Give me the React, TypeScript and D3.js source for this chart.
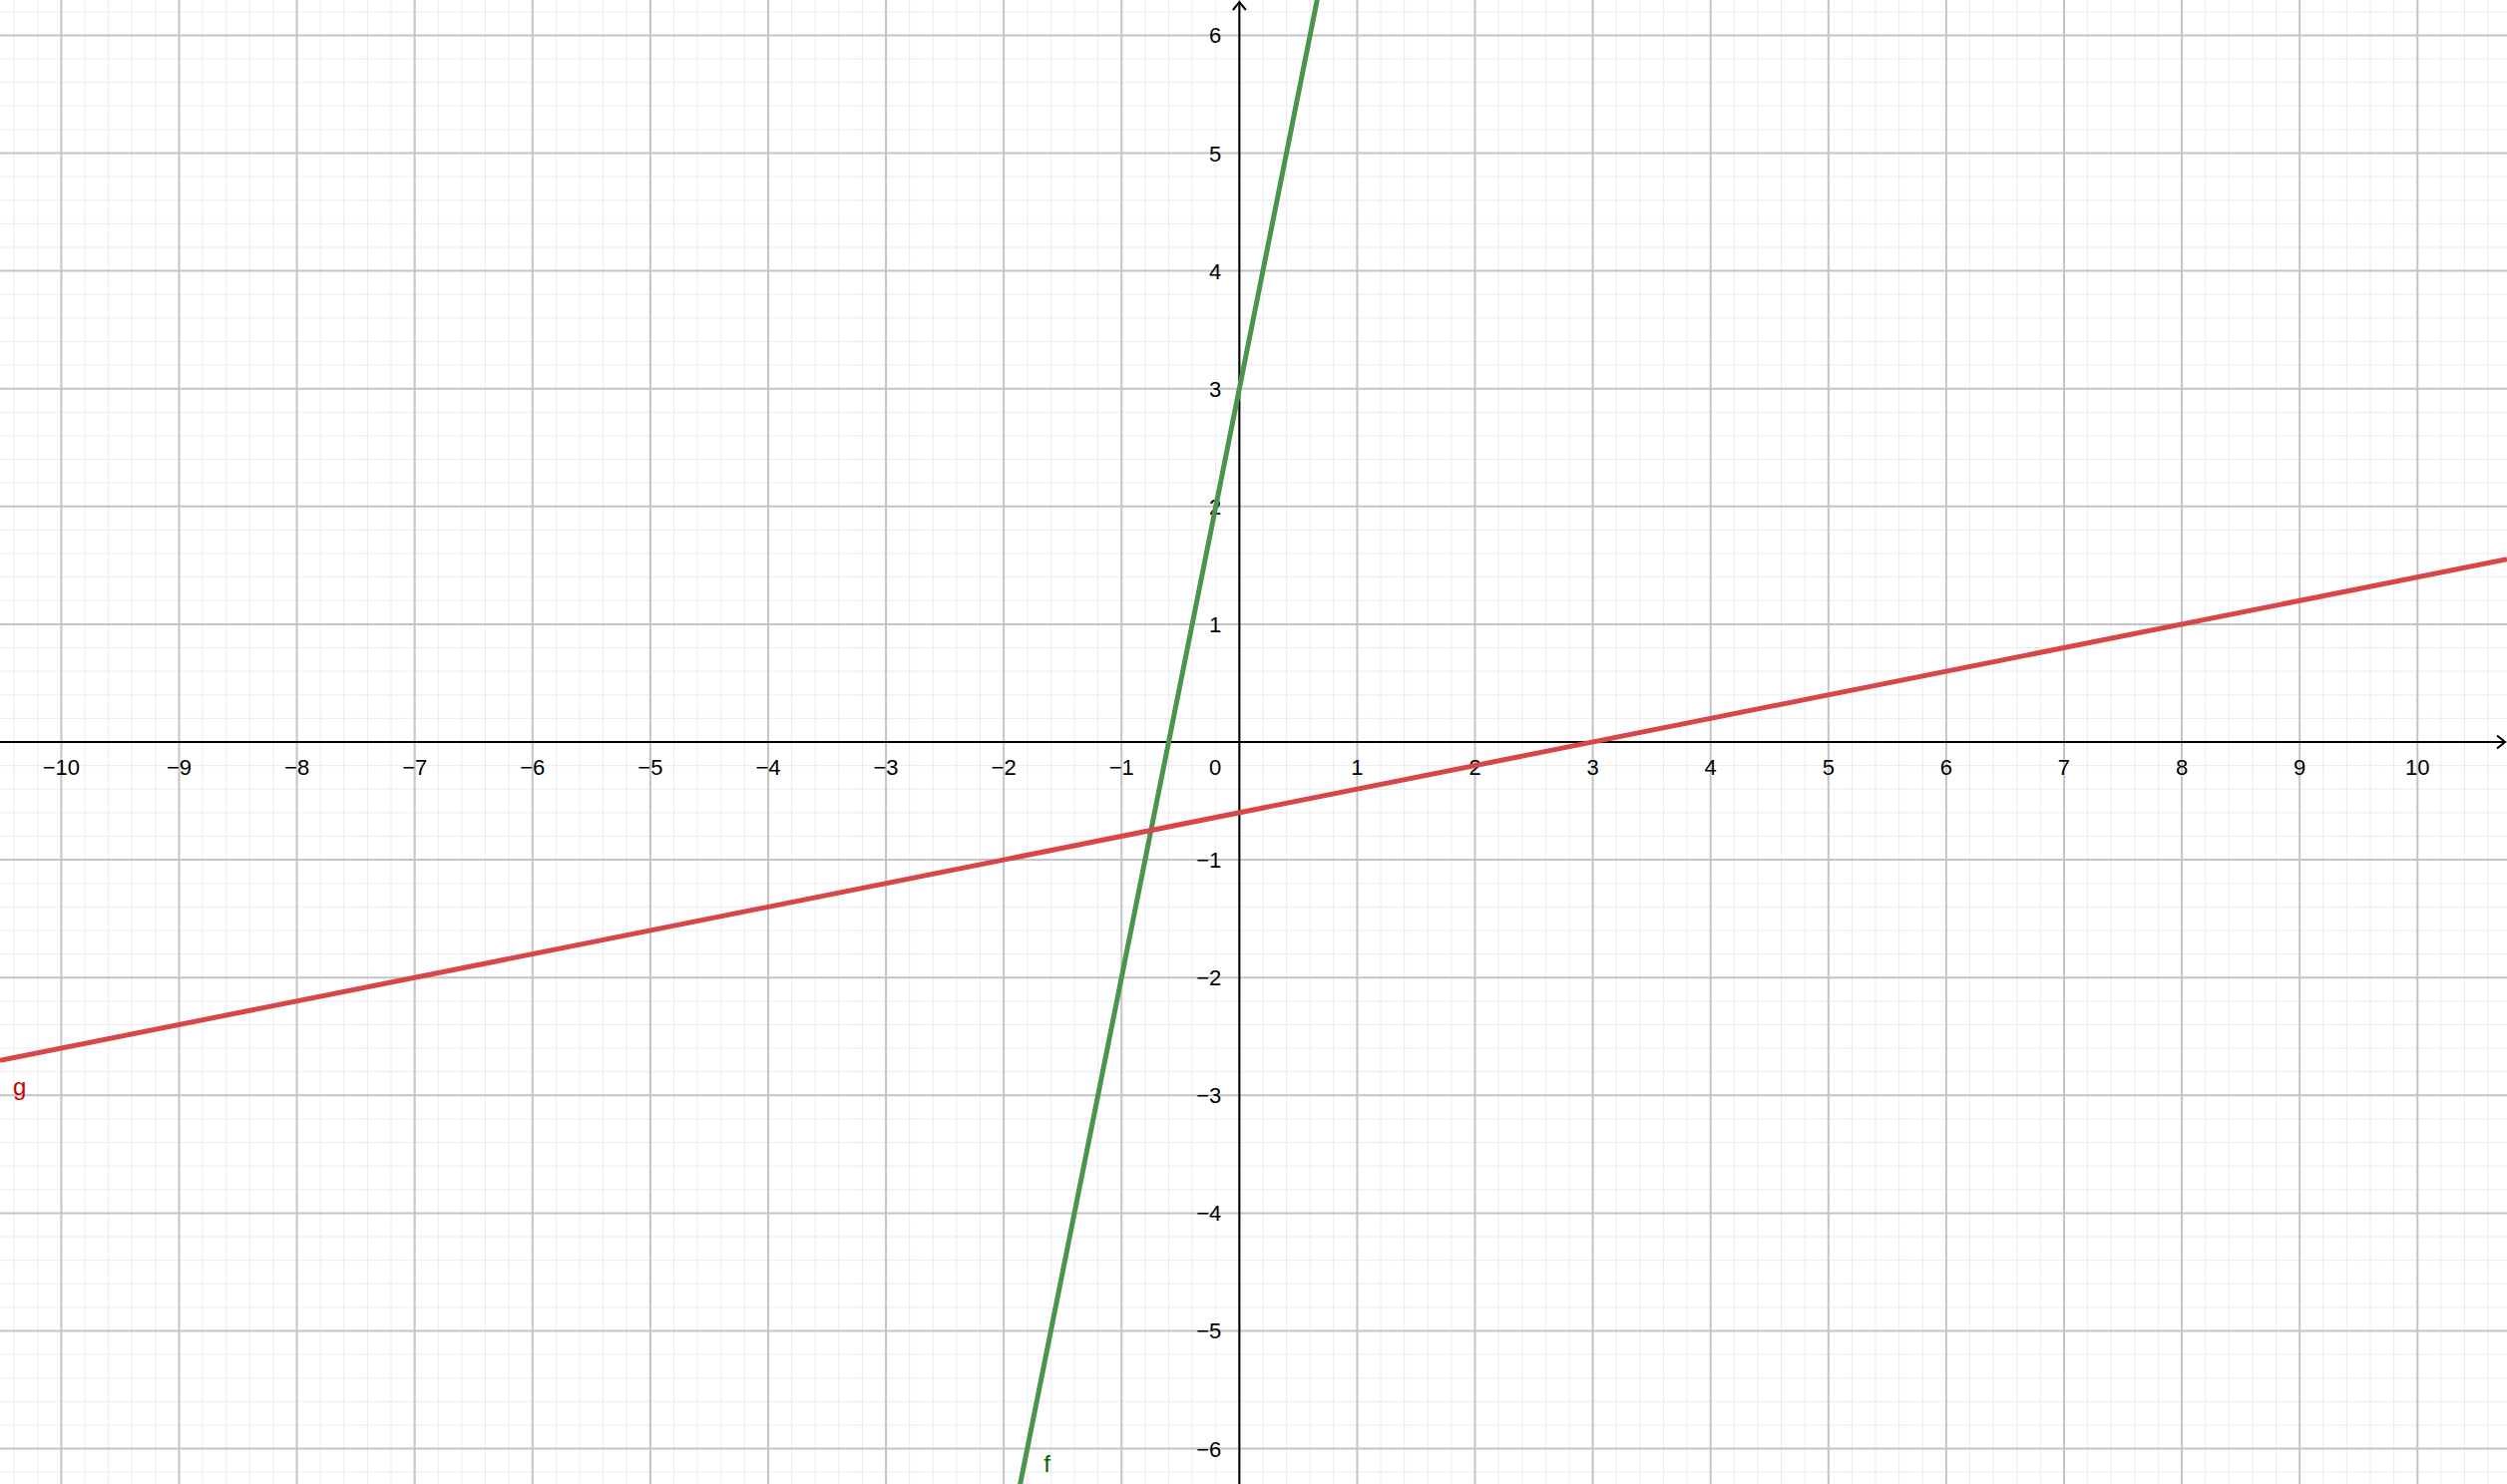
import * as React from "react";
import * as d3 from "d3";

// view window (world units)
const xRange = [-10.52, 10.76];
const yRange = [-6.3, 6.3];
const xTicks = [-10, -9, -8, -7, -6, -5, -4, -3, -2, -1, 1, 2, 3, 4, 5, 6, 7, 8, 9, 10];
const yTicks = [-6, -5, -4, -3, -2, -1, 1, 2, 3, 4, 5, 6];
const minorStep = 0.2;

// f(x) = 5x + 3, g(x) = 0.2x - 0.6
const lineNames = ["f", "g"];
const slopes = [5, 0.2];
const intercepts = [3, -0.6];
const lineColors = ["#4c934c", "#d94646"];
const labelColors = ["#006400", "#cc0000"];
const labelPos = [
  [-1.66, -6.2],
  [-10.41, -3.0],
];

const W = 2513;
const H = 1488;

const App = () => {
  const x = d3.scaleLinear().domain(xRange).range([0, W]);
  const y = d3.scaleLinear().domain(yRange).range([H, 0]);

  const minorX = d3.range(Math.ceil(xRange[0] / minorStep), Math.floor(xRange[1] / minorStep) + 1).map((i) => i * minorStep);
  const minorY = d3.range(Math.ceil(yRange[0] / minorStep), Math.floor(yRange[1] / minorStep) + 1).map((i) => i * minorStep);
  const majorX = d3.range(Math.ceil(xRange[0]), Math.floor(xRange[1]) + 1);
  const majorY = d3.range(Math.ceil(yRange[0]), Math.floor(yRange[1]) + 1);

  const line = d3
    .line<number>()
    .x((d) => x(d[0]))
    .y((d) => y(d[1]));

  const x0 = x(0);
  const y0 = y(0);
  const font = "'Liberation Sans', Arial, sans-serif";

  return (
    <svg width={W} height={H} style={{ position: "absolute", left: 0, top: 0, background: "#fff" }}>
      <g>
        {minorX.map((v, i) => (
          <line key={"mx" + i} x1={x(v)} x2={x(v)} y1={0} y2={H} stroke="#ebebeb" strokeWidth={1} />
        ))}
        {minorY.map((v, i) => (
          <line key={"my" + i} y1={y(v)} y2={y(v)} x1={0} x2={W} stroke="#ebebeb" strokeWidth={1} />
        ))}
        {majorX.map((v) => (
          <line key={"Mx" + v} x1={x(v)} x2={x(v)} y1={0} y2={H} stroke="#c4c4c4" strokeWidth={2} />
        ))}
        {majorY.map((v) => (
          <line key={"My" + v} y1={y(v)} y2={y(v)} x1={0} x2={W} stroke="#c4c4c4" strokeWidth={2} />
        ))}
      </g>

      {/* axes */}
      <g stroke="#000" strokeWidth={2} fill="none">
        <line x1={0} x2={W - 2} y1={y0} y2={y0} />
        <line x1={x0} x2={x0} y1={2} y2={H} />
        <path d={`M${W - 10},${y0 - 6.5}L${W - 2},${y0}L${W - 10},${y0 + 6.5}`} />
        <path d={`M${x0 - 6.5},${10}L${x0},${2}L${x0 + 6.5},${10}`} />
      </g>

      <g fontFamily={font} fontSize={22} fill="#000">
        {xTicks.map((v) => (
          <text key={"tx" + v} x={x(v)} y={y0 + 33} textAnchor="middle">
            {v < 0 ? "\u2212" + Math.abs(v) : v}
          </text>
        ))}
        {yTicks.map((v) => (
          <text key={"ty" + v} x={x0 - 18} y={y(v) + 8} textAnchor="end">
            {v < 0 ? "\u2212" + Math.abs(v) : v}
          </text>
        ))}
        <text x={x0 - 18} y={y0 + 33} textAnchor="end">
          0
        </text>
      </g>

      {/* function lines */}
      {lineNames.map((n, i) => (
        <path
          key={n}
          d={line([
            [xRange[0], slopes[i] * xRange[0] + intercepts[i]],
            [xRange[1], slopes[i] * xRange[1] + intercepts[i]],
          ]) as string}
          stroke={lineColors[i]}
          strokeWidth={5}
          fill="none"
        />
      ))}
      {lineNames.map((n, i) => (
        <text
          key={"l" + n}
          x={x(labelPos[i][0])}
          y={y(labelPos[i][1])}
          fontFamily={font}
          fontSize={24}
          fill={labelColors[i]}
        >
          {n}
        </text>
      ))}
    </svg>
  );
};

export default App;
